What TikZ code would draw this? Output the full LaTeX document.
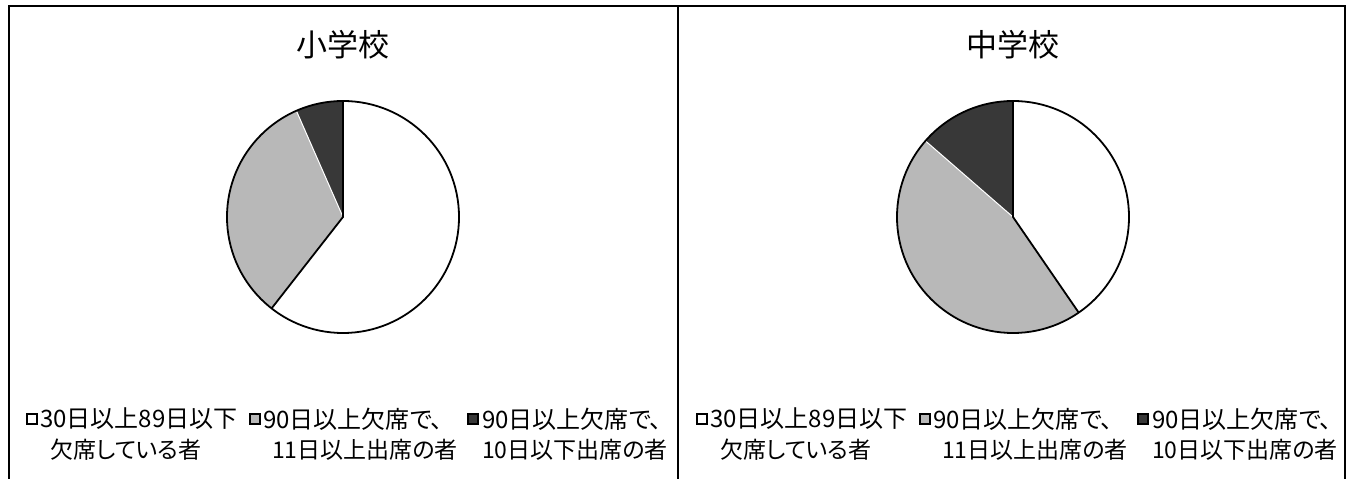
\documentclass[tikz,border=0pt]{standalone}
\usepackage{fontspec}
\newfontfamily\jpfont{Noto Sans CJK JP}
\newfontfamily\jplegend[RawFeature=+palt]{Noto Sans CJK JP}
\usetikzlibrary{positioning}
\definecolor{slicemid}{gray}{0.72}
\definecolor{slicedark}{gray}{0.22}
\tikzset{
  charttitle/.style={font=\jpfont\fontsize{31}{36}\selectfont, inner sep=0pt},
  legendtext/.style={font=\jplegend\fontsize{24}{28}\selectfont, inner sep=0pt},
  legendsub/.style={font=\jplegend\fontsize{23}{26}\selectfont, inner sep=0pt},
  keybox/.style={draw, line width=1.4pt, minimum size=10pt, inner sep=0pt},
}

\begin{document}
\begin{tikzpicture}[x=1pt, y=1pt]
    \useasboundingbox (0,0) rectangle (1353,479);
    \fill[white] (0,0) rectangle (1353,479);

    \draw[line width=2.4pt] (9,0) -- (9,473) -- (1345,473) -- (1345,0);
    \draw[line width=2.4pt] (678,0) -- (678,473);

    % elementary school
    \node[charttitle] (titleE) at (343,434) {小学校};
    \coordinate (pieE) at (343,262);
    \fill[slicedark] (pieE) -- ++(90:116) arc (90:113.7:116) -- cycle;
    \fill[slicemid] (pieE) -- ++(113.7:116) arc (113.7:232:116) -- cycle;
    \draw[white, line width=1pt] (pieE) -- ++(113.7:116);
    \draw[line width=1.8pt] (pieE) ++(90:116) -- (pieE) -- ++(232:116);
    \draw[line width=1.8pt] (pieE) circle (116);

    \node[keybox, fill=white] (keyE1) at (32,60) {};
    \node[keybox, fill=slicemid] (keyE2) at (255,60) {};
    \node[keybox, fill=slicedark] (keyE3) at (473,60) {};
    \node[legendtext, anchor=west] (textE1) at (40,60) {30日以上89日以下};
    \node[legendtext, anchor=west] (textE2) at (263,60) {90日以上欠席で、};
    \node[legendtext, anchor=west] (textE3) at (482,60) {90日以上欠席で、};
    \node[legendsub, anchor=west] (lineE1) at (50,29) {欠席している者};
    \node[legendsub, anchor=west] (lineE2) at (272,29) {11日以上出席の者};
    \node[legendsub, anchor=east] (lineE3) at (668,29) {10日以下出席の者};

    % junior high school
    \node[charttitle] (titleJ) at (1013,434) {中学校};
    \coordinate (pieJ) at (1013,262);
    \fill[slicedark] (pieJ) -- ++(90:116) arc (90:139:116) -- cycle;
    \fill[slicemid] (pieJ) -- ++(139:116) arc (139:304.5:116) -- cycle;
    \draw[white, line width=1pt] (pieJ) -- ++(139:116);
    \draw[line width=1.8pt] (pieJ) ++(90:116) -- (pieJ) -- ++(304.5:116);
    \draw[line width=1.8pt] (pieJ) circle (116);

    \node[keybox, fill=white] (keyJ1) at (702,60) {};
    \node[keybox, fill=slicemid] (keyJ2) at (925,60) {};
    \node[keybox, fill=slicedark] (keyJ3) at (1143,60) {};
    \node[legendtext, anchor=west] (textJ1) at (710,60) {30日以上89日以下};
    \node[legendtext, anchor=west] (textJ2) at (933,60) {90日以上欠席で、};
    \node[legendtext, anchor=west] (textJ3) at (1152,60) {90日以上欠席で、};
    \node[legendsub, anchor=west] (lineJ1) at (720,29) {欠席している者};
    \node[legendsub, anchor=west] (lineJ2) at (942,29) {11日以上出席の者};
    \node[legendsub, anchor=east] (lineJ3) at (1338,29) {10日以下出席の者};
\end{tikzpicture}
\end{document}
